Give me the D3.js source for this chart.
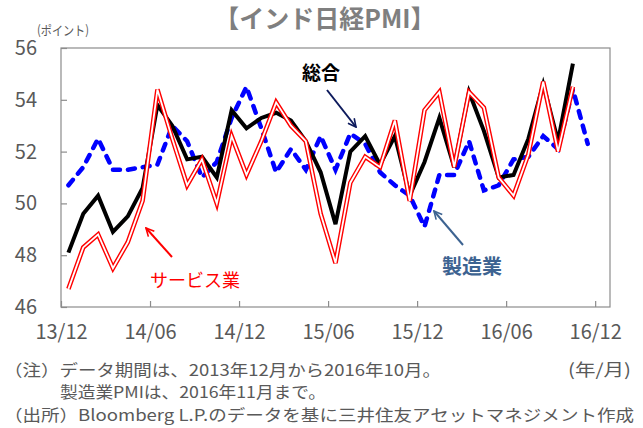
<!DOCTYPE html>
<html>
<head>
<meta charset="utf-8">
<script src="https://cdn.jsdelivr.net/npm/d3@7"></script>
<style>
  body { margin: 0; background: #fff; }
  svg { display: block; font-family: "Noto Sans CJK JP", "Noto Sans", sans-serif; }
</style>
</head>
<body>
<svg id="chart"></svg>
<script>
// India Nikkei PMI: composite, services, manufacturing (monthly, 2013/12 - 2016/11)

const W = 643, H = 428;

const months = d3.range(37); // 2013/12 ... 2016/12 category slots
const tickIdx = [0, 6, 12, 18, 24, 30, 36];
const tickLabels = ["13/12", "14/06", "14/12", "15/06", "15/12", "16/06", "16/12"];
const yTicks = [46, 48, 50, 52, 54, 56];

const composite = [48.1, 49.6, 50.3, 48.9, 49.5, 50.6, 53.8, 53.0, 51.7, 51.8, 51.0, 53.6,
    52.9, 53.3, 53.5, 53.2, 52.4, 51.2, 49.2, 52.0, 52.6, 51.5, 52.6, 50.3,
    51.6, 53.3, 51.4, 54.3, 52.8, 51.0, 51.1, 52.5, 54.6, 52.4, 55.4];
const services = [46.7, 48.3, 48.8, 47.5, 48.5, 50.1, 54.4, 52.5, 50.7, 51.7, 50.0, 52.6,
    51.1, 52.4, 53.9, 53.0, 52.4, 49.6, 47.7, 50.8, 51.8, 51.4, 53.2, 50.1,
    53.6, 54.3, 51.4, 54.3, 53.7, 51.0, 50.3, 51.9, 54.7, 52.0, 54.5];
const manufacturing = [50.7, 51.4, 52.5, 51.3, 51.3, 51.4, 51.5, 53.0, 52.4, 51.0, 51.6, 53.3,
    54.5, 52.9, 51.2, 52.1, 51.3, 52.6, 51.3, 52.7, 52.3, 51.2, 50.7, 50.3,
    49.1, 51.1, 51.1, 52.4, 50.5, 50.7, 51.7, 51.8, 52.6, 52.1, 54.4, 52.3];

const svg = d3.select("#chart").attr("width", W).attr("height", H);

const plot = { left: 61, right: 610, top: 48, bottom: 307 };

const x = d3.scaleLinear().domain([0, months.length]).range([plot.left, plot.right]);
const y = d3.scaleLinear().domain([46, 56]).range([plot.bottom, plot.top]);

const grey = "#595959";

// frame
svg.append("rect")
    .attr("x", plot.left).attr("y", plot.top)
    .attr("width", plot.right - plot.left).attr("height", plot.bottom - plot.top)
    .attr("fill", "none").attr("stroke", "#8c8c8c").attr("stroke-width", 1.2);

const yAxis = d3.axisLeft(y).tickValues(yTicks).tickSizeInner(-6).tickSizeOuter(0).tickPadding(24);
const gy = svg.append("g").attr("transform", `translate(${plot.left},0)`).call(yAxis);

const xAxis = d3.axisBottom(x).tickValues(tickIdx)
    .tickFormat((d, i) => tickLabels[i])
    .tickSizeInner(-6).tickSizeOuter(0).tickPadding(18);
const gx = svg.append("g").attr("transform", `translate(0,${plot.bottom})`).call(xAxis);

[gx, gy].forEach(g => {
    g.select(".domain").remove();
    g.selectAll(".tick line").attr("stroke", "#8c8c8c").attr("stroke-width", 1.2);
    g.selectAll(".tick text")
        .attr("fill", grey)
        .attr("font-size", "20px")
        .attr("font-family", "'Noto Sans CJK JP', sans-serif");
});

const line = d3.line()
    .x((d, i) => x(i + 0.5))
    .y(d => y(d));

// manufacturing (blue dashed)
svg.append("path")
    .datum(manufacturing)
    .attr("fill", "none")
    .attr("stroke", "#0000ff")
    .attr("stroke-width", 4.5)
    .attr("stroke-dasharray", "7,8")
    .attr("stroke-linecap", "round")
    .attr("d", line);

// composite (black)
svg.append("path")
    .datum(composite)
    .attr("fill", "none")
    .attr("stroke", "#000")
    .attr("stroke-width", 4)
    .attr("d", line);

// services (red double line)
svg.append("path")
    .datum(services)
    .attr("fill", "none")
    .attr("stroke", "#ff0000")
    .attr("stroke-width", 4.6)
    .attr("d", line);
svg.append("path")
    .datum(services)
    .attr("fill", "none")
    .attr("stroke", "#fff")
    .attr("stroke-width", 1.8)
    .attr("d", line);

// titles and labels
svg.append("text")
    .attr("x", 325).attr("y", 28)
    .attr("text-anchor", "middle")
    .attr("font-size", "25px").attr("font-weight", "bold")
    .attr("fill", "#7f7f7f")
    .text("【インド日経PMI】");

svg.append("text")
    .attr("x", 37).attr("y", 35)
    .attr("font-size", "13px").attr("fill", grey)
    .attr("textLength", 52).attr("lengthAdjust", "spacingAndGlyphs")
    .text("(ポイント)");

svg.append("text")
    .attr("x", 568).attr("y", 376)
    .attr("font-size", "17px").attr("fill", grey)
    .attr("textLength", 63).attr("lengthAdjust", "spacingAndGlyphs")
    .text("(年/月)");

const notes = [
    { x: 4, y: 376, t: "（注）データ期間は、2013年12月から2016年10月。", w: 437 },
    { x: 60, y: 398, t: "製造業PMIは、2016年11月まで。", w: 266 },
    { x: 4, y: 421, t: "（出所）Bloomberg L.P.のデータを基に三井住友アセットマネジメント作成", w: 630 }
];
svg.selectAll(".note").data(notes).join("text")
    .attr("class", "note")
    .attr("x", d => d.x).attr("y", d => d.y)
    .attr("font-size", "16px").attr("fill", grey)
    .attr("textLength", d => d.w).attr("lengthAdjust", "spacingAndGlyphs")
    .text(d => d.t);

// annotations
const defs = svg.append("defs");
function arrowHead(id, color) {
    defs.append("marker")
        .attr("id", id)
        .attr("viewBox", "0 0 10 10")
        .attr("refX", 9).attr("refY", 5)
        .attr("markerWidth", 5).attr("markerHeight", 5)
        .attr("markerUnits", "strokeWidth")
        .attr("orient", "auto")
        .append("path")
        .attr("d", "M1,1 L9,5 L1,9")
        .attr("fill", "none").attr("stroke", color).attr("stroke-width", 1.6);
}
arrowHead("a-black", "#0d1a5c");
arrowHead("a-red", "#ff0000");
arrowHead("a-blue", "#3d6391");

const notesArrows = [
    { x1: 327, y1: 90, x2: 356, y2: 127, c: "#0d1a5c", m: "a-black" },
    { x1: 172, y1: 257, x2: 146, y2: 228, c: "#ff0000", m: "a-red" },
    { x1: 463, y1: 245, x2: 434, y2: 211, c: "#3d6391", m: "a-blue" }
];
svg.selectAll(".arr").data(notesArrows).join("line")
    .attr("class", "arr")
    .attr("x1", d => d.x1).attr("y1", d => d.y1)
    .attr("x2", d => d.x2).attr("y2", d => d.y2)
    .attr("stroke", d => d.c).attr("stroke-width", 2)
    .attr("marker-end", d => `url(#${d.m})`);

svg.append("text")
    .attr("x", 302).attr("y", 80)
    .attr("font-size", "19px").attr("font-weight", "bold")
    .attr("fill", "#000")
    .text("総合");

svg.append("text")
    .attr("x", 150).attr("y", 287)
    .attr("font-size", "18px")
    .attr("fill", "#ff0000")
    .text("サービス業");

svg.append("text")
    .attr("x", 442).attr("y", 274)
    .attr("font-size", "20px").attr("font-weight", "bold")
    .attr("fill", "#3d6391")
    .text("製造業");
</script>
</body>
</html>
